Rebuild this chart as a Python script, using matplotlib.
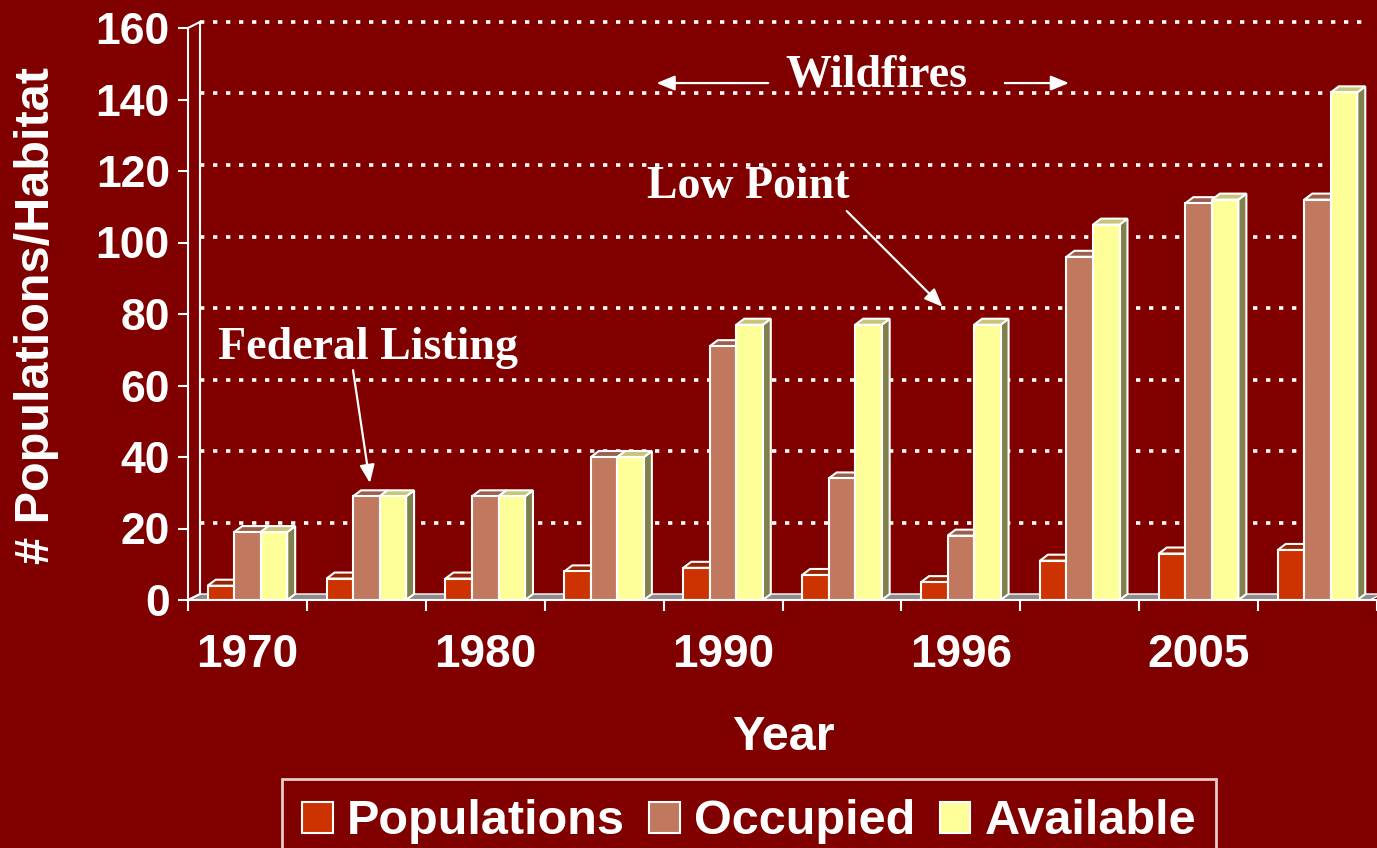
import numpy as np
import matplotlib.pyplot as plt
from matplotlib.patches import Polygon, Patch

plt.rcParams['font.family'] = ['Liberation Sans', 'DejaVu Sans']

# ---- data ----
years = ['1970', '', '1980', '', '1990', '', '1996', '', '2005', '']
populations = [4, 6, 6, 8, 9, 7, 5, 11, 13, 14]
occupied = [19, 29, 29, 40, 71, 34, 18, 96, 111, 112]
available = [19, 29, 29, 40, 77, 77, 77, 105, 112, 142]
series_names = ['Populations', 'Occupied', 'Available']
yticks = list(range(0, 161, 20))

front_colors = ['#CC3300', '#C0785F', '#FFFF99']
top_colors = ['#992200', '#9A604D', '#C8C478']
side_colors = ['#7A2000', '#8A5545', '#80804C']
BG = '#800000'

W, H = 1377, 848
fig = plt.figure(figsize=(W / 100, H / 100), dpi=100, facecolor=BG)
ax = fig.add_axes([188 / W, 1 - 600 / H, (W - 188) / W, 572 / H])
ax.set_facecolor(BG)

px_x = 119.6          # pixels per category
px_y = 572 / 160      # pixels per unit
xmax = -0.5 + (W - 188) / px_x
ax.set_xlim(-0.5, xmax)
ax.set_ylim(0, 160)

# fake 3d offsets (in data units)
wdx, wdy = 12 / px_x, 6 / px_y     # back wall
bdx, bdy = 8 / px_x, 6 / px_y      # bar depth

# floor
ax.add_patch(Polygon([(-0.5, 0), (xmax, 0), (xmax + wdx, wdy), (-0.5 + wdx, wdy)],
                     closed=True, facecolor='#8C8C8C', edgecolor='white', lw=1, zorder=1,
                     clip_on=False))

# back wall edges + gridlines
ax.plot([-0.5 + wdx, -0.5 + wdx], [wdy, 160 + wdy], color='white', lw=1.5, zorder=1, clip_on=False)
ax.plot([-0.5, -0.5 + wdx], [160, 160 + wdy], color='white', lw=1.5, zorder=1, clip_on=False)
ax.plot([-0.5, -0.5 + wdx], [0, wdy], color='white', lw=1.5, zorder=1, clip_on=False)
for v in yticks[1:]:
    ax.plot([-0.5 + wdx, xmax], [v + wdy, v + wdy], color='white', lw=2.6,
            linestyle=(0, (1.2, 2.4)), zorder=1, clip_on=False)

# bars
bw = 0.223
x = np.arange(len(populations))
data = [populations, occupied, available]
z = 3
for i in x:
    for k in range(3):
        h = data[k][i]
        x0 = i + (k - 1) * bw - bw / 2
        x1 = x0 + bw
        ax.add_patch(Polygon([(x1, 0), (x1 + bdx, bdy), (x1 + bdx, h + bdy), (x1, h)],
                             closed=True, facecolor=side_colors[k], edgecolor='white',
                             lw=1.5, zorder=z, clip_on=False))
        ax.add_patch(Polygon([(x0, h), (x1, h), (x1 + bdx, h + bdy), (x0 + bdx, h + bdy)],
                             closed=True, facecolor=top_colors[k], edgecolor='white',
                             lw=1.5, zorder=z, clip_on=False))
        ax.bar(i + (k - 1) * bw, h, width=bw, color=front_colors[k], edgecolor='white',
               linewidth=1.5, zorder=z + 0.001)
        z += 0.01

# axes styling
for s in ['top', 'right']:
    ax.spines[s].set_visible(False)
for s in ['left', 'bottom']:
    ax.spines[s].set_color('white')
    ax.spines[s].set_linewidth(1.5)
    ax.spines[s].set_zorder(10)

ax.set_yticks(yticks)
ax.set_yticklabels([str(v) for v in yticks], fontsize=32, fontweight='bold', color='white')
ax.tick_params(axis='y', colors='white', length=7, width=1.5, pad=6)

ax.set_xticks(x)
ax.set_xticklabels(years, fontsize=33, fontweight='bold', color='white')
ax.set_xticks(np.arange(-0.5, len(x), 1), minor=True)
ax.tick_params(axis='x', which='major', length=0, pad=24)
ax.tick_params(axis='x', which='minor', colors='white', length=8, width=1.5)

fig.text(37 / W, 1 - 315 / H, '# Populations/Habitat', rotation=90, ha='center', va='center',
         fontsize=35, fontweight='bold', color='white')
fig.text(783 / W, 1 - 738 / H, 'Year', ha='center', va='center',
         fontsize=35, fontweight='bold', color='white')

# annotations
serif = dict(family=['Liberation Serif', 'DejaVu Serif'], fontsize=33, fontweight='bold', color='white')
arrow = dict(arrowstyle='-|>,head_length=1.1,head_width=0.45', color='white', lw=1.6,
             shrinkA=0, shrinkB=0)
ax.text(1.01, 70.5, 'Federal Listing', ha='center', va='center', zorder=20, **serif)
ax.annotate('', xy=(1.03, 32.7), xytext=(0.888, 64.3), arrowprops=arrow, zorder=20)
ax.text(4.216, 115.5, 'Low Point', ha='center', va='center', zorder=20, **serif)
ax.annotate('', xy=(5.846, 82), xytext=(5.04, 108.8), arrowprops=arrow, zorder=20)
ax.text(5.29, 146.6, 'Wildfires', ha='center', va='center', zorder=20, **serif)
ax.annotate('', xy=(3.44, 144.6), xytext=(4.38, 144.6), arrowprops=arrow, zorder=20)
ax.annotate('', xy=(6.91, 144.6), xytext=(6.37, 144.6), arrowprops=arrow, zorder=20)

# legend
handles = [Patch(facecolor=c, edgecolor='white', lw=1.5) for c in front_colors]
leg = fig.legend(handles, series_names, loc='upper left', bbox_to_anchor=(282 / W, 1 - 779 / H),
                 ncol=3, frameon=True, fancybox=False, borderaxespad=0,
                 prop=dict(family='Liberation Sans', size=35, weight='bold'),
                 handlelength=0.62, handleheight=0.62, handletextpad=0.3,
                 columnspacing=0.5, borderpad=0.42)
leg.get_frame().set_edgecolor('white')
leg.get_frame().set_linewidth(2)
leg.get_frame().set_facecolor(BG)
for t in leg.get_texts():
    t.set_color('white')

fig.savefig('out.png', dpi=100, facecolor=BG)
